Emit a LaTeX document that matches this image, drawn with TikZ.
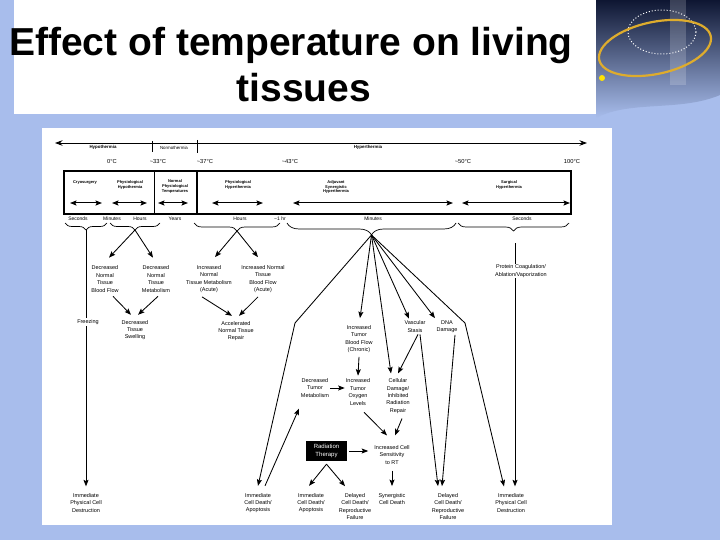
\documentclass[tikz,border=0pt]{standalone}
\usepackage{fontspec}
\setmainfont{Liberation Sans}
\usetikzlibrary{arrows.meta,decorations.pathreplacing,calc}
\definecolor{slidebg}{RGB}{168,189,236}
\definecolor{navy}{RGB}{14,22,50}
\definecolor{gold}{RGB}{222,172,45}
\begin{document}
\begin{tikzpicture}[x=1pt,y=-1pt,
  lbl/.style={font=\fontsize{5.5}{7.4}\selectfont, align=center, inner sep=1pt},
  boxlbl/.style={font=\fontsize{4}{4.9}\selectfont\bfseries, align=center, inner sep=0.5pt},
  templbl/.style={font=\fontsize{5.8}{7}\selectfont, inner sep=0.5pt},
  timelbl/.style={font=\fontsize{5}{6}\selectfont, inner sep=0.5pt},
  toplbl/.style={font=\fontsize{4.4}{5}\selectfont\bfseries, inner sep=0.5pt},
  ln/.style={line width=0.85pt},
  arr/.style={line width=0.85pt, -{Stealth[length=6.5pt,width=5pt,inset=1.2pt]}},
  dbl/.style={line width=1pt, {Stealth[length=6.5pt,width=5pt,inset=1.2pt]}-{Stealth[length=6.5pt,width=5pt,inset=1.2pt]}},
  brc/.style={decorate, decoration={brace, mirror, amplitude=#1}, line width=0.7pt},
  brc/.default=7]
\useasboundingbox (0,0) rectangle (720,540);
% slide background
\fill[slidebg] (0,0) rectangle (720,540);
\shade[top color=navy, bottom color=slidebg] (596,0) -- (720,0) -- (720,95) .. controls (680,112) and (630,100) .. (596,118) -- cycle;
\fill[white, opacity=0.18] (670,0) rectangle (686,85);
\draw[white, dotted, line width=1pt] (662,32) ellipse (34 and 22);
\draw[gold, line width=2.2pt, rotate around={12:(655,48)}] (655,48) ellipse (57 and 26);
\fill[yellow!85!orange] (602,78) circle (3);
% title
\fill[white] (14,0) rectangle (596,114);
\node[anchor=base, font=\fontsize{39}{45}\selectfont\bfseries, inner sep=0] (t1) at (291,56) {Effect of temperature on living};
\node[anchor=base, font=\fontsize{39}{45}\selectfont\bfseries, inner sep=0] (t2) at (304,102) {tissues};
% panel
\fill[white] (42,128) rectangle (612,525);

% temperature scale
\coordinate (sl) at (55,143);
\coordinate (sr) at (587,143);
\draw[ln, {Stealth[length=7.5pt,width=5.5pt]}-{Stealth[length=7.5pt,width=5.5pt]}] (sl) -- (sr);
\draw[line width=0.5pt] (152,141) -- (152,152);
\draw[line width=1pt] (197,140) -- (197,153);
\node[toplbl] (hypo) at (103,147.5) {Hypothermia};
\node[toplbl, font=\fontsize{4.4}{5}\selectfont] (normo) at (174,147.5) {Normothermia};
\node[toplbl] (hyper) at (368,147.5) {Hyperthermia};
\node[templbl] (c0) at (112,162) {0°C};
\node[templbl] (c33) at (158,162) {\textasciitilde 33°C};
\node[templbl] (c37) at (205,162) {\textasciitilde 37°C};
\node[templbl] (c43) at (290,162) {\textasciitilde 43°C};
\node[templbl] (c50) at (463,162) {\textasciitilde 50°C};
\node[templbl] (c100) at (572,162) {100°C};

% box
\draw[line width=1.2pt] (64,171) rectangle (571,214);
\draw[line width=0.6pt] (154,171) -- (154,214);
\draw[line width=1.5pt] (197,171) -- (197,214);
\node[boxlbl] (cryo) at (85,183) {Cryosurgery};
\node[boxlbl] (phypo) at (130,185) {Physiological\\Hypothermia};
\node[boxlbl] (normt) at (175,186.5) {Normal\\Physiological\\Temperatures};
\node[boxlbl] (phyper) at (238,185) {Physiological\\Hyperthermia};
\node[boxlbl] (adj) at (336,187) {Adjuvant\\Synergistic\\Hyperthermia};
\node[boxlbl] (surg) at (509,185) {Surgical\\Hyperthermia};
\draw[dbl] (70,203) -- (102,203);
\draw[dbl] (112,203) -- (147,203);
\draw[dbl] (158,203) -- (188,203);
\draw[dbl] (212,203) -- (263,203);
\draw[dbl] (293,203) -- (453,203);
\draw[dbl] (462,203) -- (570,203);

% time labels
\node[timelbl] (ts1) at (78,219) {Seconds};
\node[timelbl] (tm1) at (112,219) {Minutes};
\node[timelbl] (th1) at (140,219) {Hours};
\node[timelbl] (ty) at (175,219) {Years};
\node[timelbl] (th2) at (240,219) {Hours};
\node[timelbl] (thr) at (280,219) {\textasciitilde 1 hr};
\node[timelbl] (tm2) at (373,219) {Minutes};
\node[timelbl] (ts2) at (522,219) {Seconds};

% braces
\draw[brc=7] (65,223) -- (107,223);
\draw[brc=7] (110,223) -- (160,223);
\draw[brc=8] (194,223) -- (280,223);
\draw[brc=12] (287,223) -- (456,223);
\draw[brc=8] (458,223) -- (569,223);
\coordinate (b1) at (86,230);
\coordinate (b2) at (135,230);
\coordinate (b3) at (237,231);
\coordinate (b4) at (371.5,235);
\coordinate (p5) at (515,243);
\coordinate (bendL) at (295,323);
\coordinate (bendR) at (465,323);

% nodes
\node[lbl] (imdL) at (86,503) {Immediate\\Physical Cell\\Destruction};
\node[lbl] (freeze) at (88,322) {Freezing};
\node[lbl] (dbf) at (105,279) {Decreased\\Normal\\Tissue\\Blood Flow};
\node[lbl] (dmet) at (156,279) {Decreased\\Normal\\Tissue\\Metabolism};
\node[lbl] (dsw) at (135,330) {Decreased\\Tissue\\Swelling};
\node[lbl] (inm) at (209,279) {Increased\\Normal\\Tissue Metabolism\\(Acute)};
\node[lbl] (inbf) at (263,279) {Increased Normal\\Tissue\\Blood Flow\\(Acute)};
\node[lbl] (acc) at (236,331) {Accelerated\\Normal Tissue\\Repair};
\node[lbl] (itbf) at (359,339) {Increased\\Tumor\\Blood Flow\\(Chronic)};
\node[lbl] (vs) at (415,326.5) {Vascular\\Stasis};
\node[lbl] (dna) at (447,326.5) {DNA\\Damage};
\node[lbl] (dtm) at (315,388) {Decreased\\Tumor\\Metabolism};
\node[lbl] (ito) at (358,392) {Increased\\Tumor\\Oxygen\\Levels};
\node[lbl] (cd) at (398,396) {Cellular\\Damage/\\Inhibited\\Radiation\\Repair};
\node[lbl] (ics) at (392,455) {Increased Cell\\Sensitivity\\to RT};
\node[fill=black, text=white, font=\fontsize{6}{7.6}\selectfont, align=center, minimum width=41pt, minimum height=20pt, inner sep=1pt] (rt) at (326.5,451) {Radiation\\Therapy};
\node[lbl] (icd1) at (258,503) {Immediate\\Cell Death/\\Apoptosis};
\node[lbl] (icd2) at (311,503) {Immediate\\Cell Death/\\Apoptosis};
\node[lbl] (dcd1) at (355,506.5) {Delayed\\Cell Death/\\Reproductive\\Failure};
\node[lbl] (scd) at (392,499) {Synergistic\\Cell Death};
\node[lbl] (dcd2) at (448,506.5) {Delayed\\Cell Death/\\Reproductive\\Failure};
\node[lbl] (imdR) at (511,503) {Immediate\\Physical Cell\\Destruction};
\node[lbl] (prot) at (521,271) {Protein Coagulation/\\Ablation/Vaporization};

% connectors
\draw[ln] (b1) -- (b1 |- freeze.north);
\draw[arr] (b1 |- freeze.south) -- ($(b1 |- imdL.north)+(0,-6)$);
\draw[ln] (p5) -- (p5 |- prot.north);
\draw[arr] (p5 |- prot.south) -- ($(p5 |- imdR.north)+(0,-6)$);
\draw[arr] (b2) -- ($(dbf.north)+(4,-7)$);
\draw[arr] (b2) -- ($(dmet.north)+(-3,-7)$);
\draw[arr] ($(dbf.south)+(8,3)$) -- ($(dsw.north)+(-4,-4)$);
\draw[arr] ($(dmet.south)+(2,3)$) -- ($(dsw.north)+(3,-4)$);
\draw[arr] (b3) -- ($(inm.north)+(6,-7)$);
\draw[arr] (b3) -- ($(inbf.north)+(-5,-7)$);
\draw[arr] ($(inm.south)+(-7,3)$) -- ($(acc.north)+(-4,-4)$);
\draw[arr] ($(inbf.south)+(-5,3)$) -- ($(acc.north)+(3,-4)$);
\draw[arr] (b4) -- (bendL) -- ($(icd1.north)+(0,-6)$);
\draw[arr] (b4) -- ($(itbf.north)+(1,-6)$);
\draw[arr] (b4) -- ($(cd.north)+(-7,-4)$);
\draw[arr] (b4) -- ($(vs.north)+(-6,-1)$);
\draw[arr] (b4) -- ($(dna.north)+(-12,-1)$);
\draw[arr] (b4) -- (bendR) -- ($(imdR.north)+(-7,-6)$);
\draw[arr] ($(itbf.south)+(0,3)$) -- ($(ito.north)+(0,-2)$);
\draw[arr] ($(vs.south)+(3,1)$) -- ($(cd.north)+(0,-4)$);
\draw[arr] ($(vs.south)+(5,1)$) -- ($(dcd2.north)+(-10,-6)$);
\draw[arr] ($(dna.south)+(8,1)$) -- ($(dcd2.north)+(-6,-6)$);
\draw[arr] (dtm.east) -- (dtm.east -| ito.west);
\draw[arr] ($(icd1.north)+(7,-6)$) -- ($(dtm.south)+(-16,10)$);
\draw[arr] ($(ito.south)+(6,6)$) -- ($(ics.north)+(-5,-9)$);
\draw[arr] ($(cd.south)+(4,4)$) -- ($(ics.north)+(3,-9)$);
\draw[arr] ($(rt.east)+(2,0)$) -- ($(rt.east -| ics.west)+(-5,0)$);
\draw[arr] ($(rt.south)+(0,3)$) -- ($(icd2.north)+(-2,-6)$);
\draw[arr] ($(rt.south)+(0,3)$) -- ($(dcd1.north)+(-10,-6)$);
\draw[arr] ($(ics.south)+(0,5)$) -- ($(scd.north)+(0,-6)$);
\end{tikzpicture}
\end{document}
